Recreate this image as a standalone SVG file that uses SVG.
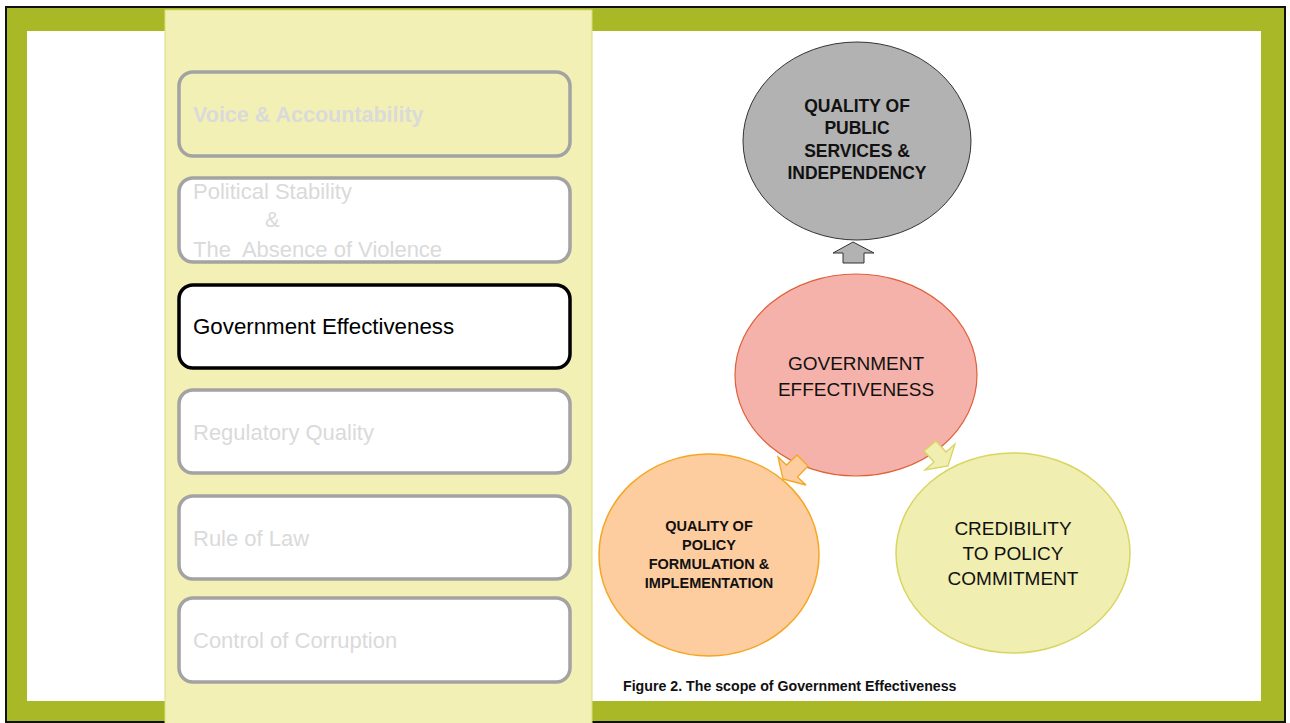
<svg xmlns="http://www.w3.org/2000/svg" width="1290" height="723" viewBox="0 0 1290 723">
<style>
.box{stroke:#A3A3A3;stroke-width:3.5;fill:#FFFFFF}
.lt{font-family:"Liberation Sans",Arial,sans-serif;font-size:22px;fill:#DADADA}
.ct{font-family:"Liberation Sans",Arial,sans-serif;fill:#111111;text-anchor:middle}
.b{font-weight:bold}
</style>
<rect x="0" y="0" width="1290" height="723" fill="#FFFFFF"/>
<rect x="6" y="7" width="1279" height="715" fill="#A8B827" stroke="#111111" stroke-width="2"/>
<rect x="27" y="31" width="1234" height="670" fill="#FFFFFF"/>
<rect x="165" y="10" width="427" height="714" fill="#F2F0B4" stroke="#DEDB7E" stroke-width="1"/>

<g id="n-voice">
<rect class="box" x="179" y="72" width="391" height="84" rx="14" style="fill:#F2F0B4"/>
<text class="lt b" x="193" y="122" style="font-size:21.5px">Voice &amp; Accountability</text>
</g>
<g id="n-political">
<rect class="box" x="179" y="178" width="391" height="84" rx="14"/>
<text class="lt" x="193" y="199">Political Stability</text>
<text class="lt" x="265" y="227">&amp;</text>
<text class="lt" x="193" y="257" xml:space="preserve">The  Absence of Violence</text>
</g>
<g id="n-gov">
<rect x="179" y="285" width="391" height="83" rx="14" fill="#FFFFFF" stroke="#000000" stroke-width="3.5"/>
<text class="lt" x="193" y="334" style="fill:#000000;font-size:22.3px">Government Effectiveness</text>
</g>
<g id="n-regulatory">
<rect class="box" x="179" y="390" width="391" height="83" rx="14"/>
<text class="lt" x="193" y="440">Regulatory Quality</text>
</g>
<g id="n-rule">
<rect class="box" x="179" y="496" width="391" height="83" rx="14"/>
<text class="lt" x="193" y="546">Rule of Law</text>
</g>
<g id="n-corruption">
<rect class="box" x="179" y="598" width="391" height="84" rx="14"/>
<text class="lt" x="193" y="648">Control of Corruption</text>
</g>

<g id="c-public">
<ellipse cx="857" cy="141" rx="114" ry="99" fill="#B2B2B2" stroke="#333333" stroke-width="1"/>
<text class="ct b" font-size="17.5" x="857" y="112">QUALITY OF</text>
<text class="ct b" font-size="17.5" x="857" y="134">PUBLIC</text>
<text class="ct b" font-size="17.5" x="857" y="157">SERVICES &amp;</text>
<text class="ct b" font-size="17.5" x="857" y="179">INDEPENDENCY</text>
</g>
<g id="c-gov">
<ellipse cx="856" cy="375" rx="121" ry="101" fill="#F5B2AA" stroke="#E0603A" stroke-width="1.2"/>
<text class="ct" font-size="19" x="856" y="370">GOVERNMENT</text>
<text class="ct" font-size="19" x="856" y="396">EFFECTIVENESS</text>
</g>
<g id="c-policy">
<ellipse cx="709" cy="555" rx="110" ry="101" fill="#FDCDA0" stroke="#F5A623" stroke-width="1.5"/>
<text class="ct b" font-size="14.5" x="709" y="531">QUALITY OF</text>
<text class="ct b" font-size="14.5" x="709" y="550">POLICY</text>
<text class="ct b" font-size="14.5" x="709" y="569">FORMULATION &amp;</text>
<text class="ct b" font-size="14.5" x="709" y="588">IMPLEMENTATION</text>
</g>
<g id="c-credibility">
<ellipse cx="1013" cy="553" rx="117" ry="100" fill="#F0EEB0" stroke="#D8D560" stroke-width="1.5"/>
<text class="ct" font-size="19" x="1013" y="535">CREDIBILITY</text>
<text class="ct" font-size="19" x="1013" y="560">TO POLICY</text>
<text class="ct" font-size="19" x="1013" y="585">COMMITMENT</text>
</g>

<g id="connectors">
<polygon points="853,242 874,253 864,253 864,263 843,263 843,253 833,253" fill="#B2B2B2" stroke="#333333" stroke-width="1"/>
<polygon points="783,479 806,485 797.5,477 808,466 797,455 786.5,465 778,457" fill="#FDCDA0" stroke="#F5A623" stroke-width="1.3"/>
<polygon points="948,466 955,444 946,452 936,441 924,451 934,462 925,470" fill="#F0EEB0" stroke="#D8D560" stroke-width="1.3"/>
</g>

<text x="623" y="691" font-family="'Liberation Sans',Arial,sans-serif" font-size="14.2" font-weight="bold" fill="#111111">Figure 2. The scope of Government Effectiveness</text>
</svg>
